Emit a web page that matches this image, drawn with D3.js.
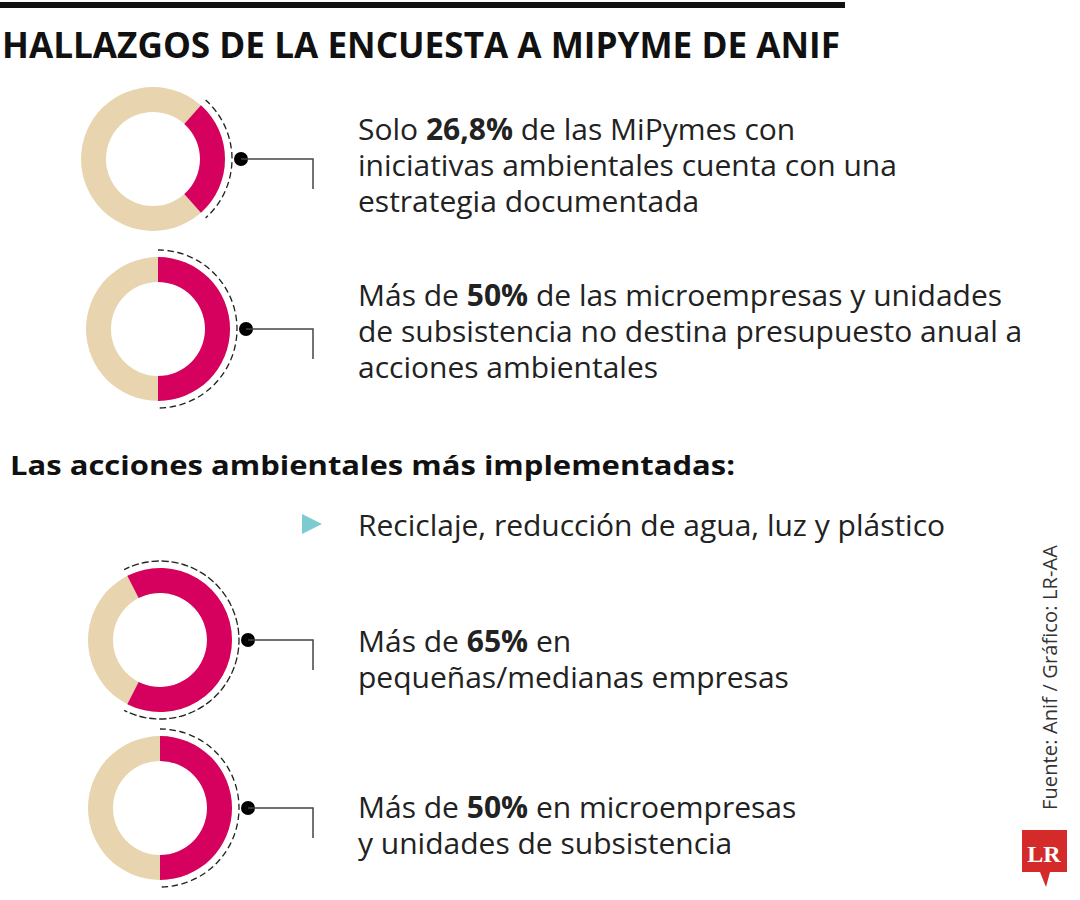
<!DOCTYPE html>
<html><head><meta charset="utf-8">
<script src="https://cdn.jsdelivr.net/npm/d3@7"></script>
<style>body{margin:0;background:#fff}</style></head>
<body><svg id="c" width="1080" height="900"></svg>
<script>
const shares = [26.8, 50, 65, 50];
const centersY = [159, 329, 640, 808];
const centersX = [153, 158, 160, 160];
const lines = [
  [["Solo ", "26,8%", " de las MiPymes con"], ["iniciativas ambientales cuenta con una"], ["estrategia documentada"]],
  [["Más de ", "50%", " de las microempresas y unidades"], ["de subsistencia no destina presupuesto anual a"], ["acciones ambientales"]],
  [["Más de ", "65%", " en"], ["pequeñas/medianas empresas"]],
  [["Más de ", "50%", " en microempresas"], ["y unidades de subsistencia"]]
];
const textY = [[140, 176, 212], [306, 342, 378], [652, 688], [818, 854]];

const svg = d3.select("#c");
const F = "'Open Sans', 'Noto Sans', sans-serif";
svg.append("rect").attr("x", 0).attr("y", 2).attr("width", 845).attr("height", 6).attr("fill", "#111");
svg.append("text").attr("x", 2).attr("y", 58).attr("font-family", F).attr("font-weight", 700)
  .attr("font-size", 35).attr("fill", "#111").attr("textLength", 838).attr("lengthAdjust", "spacingAndGlyphs")
  .text("HALLAZGOS DE LA ENCUESTA A MIPYME DE ANIF");
svg.append("text").attr("x", 10).attr("y", 475).attr("font-family", F).attr("font-weight", 700)
  .attr("font-size", 27).attr("fill", "#111").attr("textLength", 725).attr("lengthAdjust", "spacingAndGlyphs")
  .text("Las acciones ambientales más implementadas:");
svg.append("path").attr("d", "M302,514 L322,524 L302,534 Z").attr("fill", "#7ccbd0");
svg.append("text").attr("x", 358).attr("y", 536).attr("font-family", F).attr("font-size", 30)
  .attr("fill", "#222").text("Reciclaje, reducción de agua, luz y plástico");

const toRad = d => d * Math.PI / 180;
shares.forEach((s, i) => {
  const g = svg.append("g").attr("transform", `translate(${centersX[i]},${centersY[i]})`);
  const span = 360 * s / 100;
  const a0 = toRad(90 - span / 2), a1 = toRad(90 + span / 2);
  const arc = d3.arc().innerRadius(47).outerRadius(72);
  g.append("path").attr("d", arc({startAngle: 0, endAngle: 2 * Math.PI})).attr("fill", "#e8d5b0");
  g.append("path").attr("d", arc({startAngle: a0, endAngle: a1})).attr("fill", "#d6005e");
  g.append("path").attr("d", d3.arc().innerRadius(79).outerRadius(79)({startAngle: a0, endAngle: a1}))
    .attr("fill", "none").attr("stroke", "#222").attr("stroke-width", 1.3).attr("stroke-dasharray", "6,4");
  g.append("circle").attr("cx", 88).attr("cy", 0).attr("r", 7).attr("fill", "#000");
  g.append("path").attr("d", `M88,0 H${313 - centersX[i]} V30`).attr("fill", "none").attr("stroke", "#444").attr("stroke-width", 1.5);
  const t = svg.append("g").attr("font-family", F).attr("font-size", 30).attr("fill", "#222");
  lines[i].forEach((ln, j) => {
    const tx = t.append("text").attr("x", 358).attr("y", textY[i][j]);
    ln.forEach((part, k) => tx.append("tspan").attr("font-weight", k === 1 ? 700 : 400).text(part));
  });
});

svg.append("text").attr("transform", "translate(1057,810) rotate(-90)").attr("font-family", F)
  .attr("font-size", 20).attr("fill", "#333").attr("textLength", 265).text("Fuente: Anif / Gráfico: LR-AA");
svg.append("path").attr("d", "M1022,830 H1067 V872 H1050 L1046,887 L1040,872 H1022 Z").attr("fill", "#d42a2a");
svg.append("text").attr("x", 1044).attr("y", 862).attr("text-anchor", "middle").attr("font-family", "'Liberation Serif', serif")
  .attr("font-weight", 700).attr("font-size", 24).attr("fill", "#fff").text("LR");
</script></body></html>
